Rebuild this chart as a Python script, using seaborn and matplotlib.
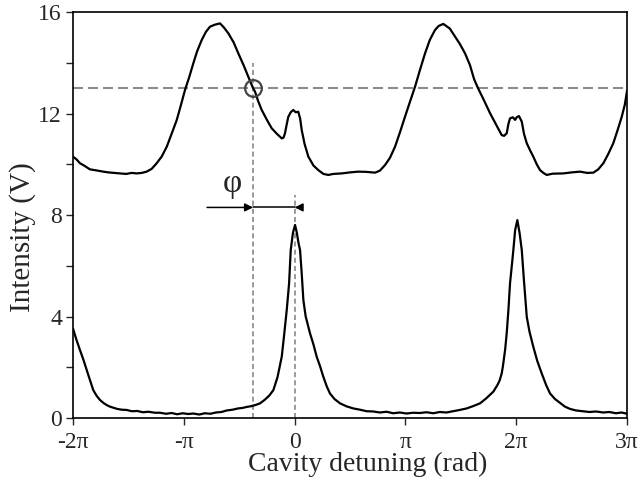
"""
Cavity scan: transmitted intensity vs cavity detuning
"""
import numpy as np
import pandas as pd
import seaborn as sns
import matplotlib.pyplot as plt
from matplotlib.ticker import MultipleLocator

# Set Style
sns.set_style("ticks")
plt.rcParams['font.family'] = ['Liberation Serif', 'DejaVu Serif']

# Data (x in units of pi, y in volts)
x_low = [-2.0, -1.97, -1.937, -1.906, -1.876, -1.847, -1.817, -1.787, -1.756, -1.72,
         -1.69, -1.666, -1.63, -1.60, -1.56, -1.515, -1.47, -1.42, -1.37, -1.32,
         -1.26, -1.215, -1.16, -1.11, -1.06, -1.01, -0.96, -0.914, -0.86, -0.81,
         -0.76, -0.71, -0.66, -0.613, -0.56, -0.51, -0.47, -0.432, -0.39, -0.35,
         -0.312, -0.27, -0.23, -0.192, -0.155, -0.116, -0.093, -0.071, -0.05, -0.035,
         -0.015, 0.004, 0.02, 0.035, 0.049, 0.064, 0.079, 0.10, 0.139, 0.17,
         0.199, 0.229, 0.259, 0.29, 0.319, 0.36, 0.41, 0.47, 0.53, 0.59,
         0.65, 0.71, 0.77, 0.83, 0.89, 0.95, 1.01, 1.07, 1.13, 1.19,
         1.25, 1.31, 1.37, 1.43, 1.49, 1.553, 1.61, 1.673, 1.73, 1.793,
         1.83, 1.85, 1.869, 1.88, 1.90, 1.914, 1.93, 1.944, 1.96, 1.974, 1.99, 2.010,
         2.03, 2.050, 2.07, 2.095, 2.12, 2.154, 2.19, 2.230, 2.27, 2.305,
         2.35, 2.395, 2.44, 2.486, 2.54, 2.60, 2.66, 2.72, 2.785, 2.84,
         2.90, 2.95, 3.0]
y_low = [3.53, 3.1, 2.68, 2.3, 1.89, 1.5, 1.10, 0.88, 0.71, 0.58,
         0.50, 0.45, 0.40, 0.36, 0.33, 0.32, 0.27, 0.28, 0.23, 0.25,
         0.21, 0.21, 0.17, 0.20, 0.15, 0.19, 0.16, 0.18, 0.14, 0.19,
         0.17, 0.22, 0.24, 0.30, 0.33, 0.38, 0.40, 0.44, 0.47, 0.52,
         0.58, 0.72, 0.88, 1.10, 1.6, 2.42, 3.34, 4.26, 5.3, 6.62,
         7.3, 7.61, 7.3, 6.9, 6.62, 5.7, 4.65, 4.0, 3.34, 2.9,
         2.42, 2.05, 1.63, 1.25, 0.97, 0.75, 0.58, 0.46, 0.38, 0.33,
         0.27, 0.26, 0.22, 0.25, 0.19, 0.22, 0.18, 0.21, 0.20, 0.23,
         0.19, 0.24, 0.22, 0.27, 0.32, 0.38, 0.47, 0.58, 0.78, 1.04,
         1.3, 1.48, 1.76, 2.05, 2.7, 3.34, 4.3, 5.31, 6.0, 6.62, 7.4, 7.80,
         7.3, 6.62, 5.4, 3.99, 3.4, 2.81, 2.25, 1.76, 1.3, 0.97,
         0.75, 0.6, 0.45, 0.36, 0.30, 0.27, 0.24, 0.26, 0.22, 0.24,
         0.19, 0.22, 0.17]

x_up = [-2.0, -1.97, -1.937, -1.90, -1.847, -1.79, -1.727, -1.68, -1.63, -1.576,
        -1.52, -1.47, -1.425, -1.38, -1.335, -1.29, -1.245, -1.20, -1.154, -1.11,
        -1.064, -1.025, -0.989, -0.95, -0.914, -0.88, -0.838, -0.80, -0.764, -0.72,
        -0.673, -0.64, -0.598, -0.55, -0.508, -0.46, -0.418, -0.375, -0.357, -0.33,
        -0.297, -0.25, -0.207, -0.16, -0.116, -0.10, -0.087, -0.07, -0.057, -0.035,
        -0.012, 0.01, 0.033, 0.05, 0.064, 0.09, 0.124, 0.17, 0.214, 0.26,
        0.304, 0.35, 0.425, 0.50, 0.575, 0.65, 0.726, 0.77, 0.816, 0.86,
        0.906, 0.95, 0.996, 1.04, 1.087, 1.13, 1.177, 1.22, 1.267, 1.30,
        1.342, 1.40, 1.448, 1.49, 1.538, 1.583, 1.62, 1.655, 1.70, 1.764,
        1.82, 1.869, 1.89, 1.914, 1.93, 1.944, 1.97, 1.99, 2.004, 2.025,
        2.050, 2.07, 2.095, 2.125, 2.154, 2.185, 2.215, 2.245, 2.275, 2.33,
        2.425, 2.50, 2.576, 2.64, 2.696, 2.74, 2.786, 2.83, 2.876, 2.915,
        2.952, 2.98, 3.0]
y_up = [10.30, 10.2, 10.04, 9.95, 9.80, 9.76, 9.71, 9.68, 9.66, 9.64,
        9.62, 9.66, 9.64, 9.66, 9.71, 9.82, 10.04, 10.30, 10.69, 11.2,
        11.74, 12.35, 12.93, 13.45, 13.98, 14.45, 14.90, 15.22, 15.42, 15.50,
        15.55, 15.40, 15.16, 14.80, 14.37, 13.90, 13.45, 13.0, 12.86, 12.50,
        12.14, 11.75, 11.42, 11.20, 11.02, 11.05, 11.22, 11.6, 11.87, 12.05,
        12.14, 12.05, 12.07, 11.8, 11.35, 10.8, 10.30, 9.95, 9.77, 9.62,
        9.58, 9.62, 9.64, 9.68, 9.71, 9.70, 9.67, 9.75, 9.97, 10.25,
        10.69, 11.25, 11.87, 12.45, 13.06, 13.70, 14.37, 14.90, 15.29, 15.45,
        15.53, 15.35, 15.03, 14.75, 14.37, 13.9, 13.35, 13.0, 12.6, 12.01,
        11.55, 11.15, 11.12, 11.22, 11.6, 11.81, 11.85, 11.75, 11.85, 11.9,
        11.68, 11.2, 10.83, 10.55, 10.30, 10.0, 9.77, 9.66, 9.58, 9.63,
        9.64, 9.68, 9.71, 9.66, 9.67, 9.80, 10.04, 10.40, 10.83, 11.35,
        11.87, 12.35, 12.9]

tick_pos = [-2, -1, 0, 1, 2, 3]
tick_labels = ['-2π', '-π', '0', 'π', '2π', '3π']

level = 13.0
phi_x = -0.375
arrow_y = 8.3

df_low = pd.DataFrame({'x': x_low, 'y': y_low})
df_up = pd.DataFrame({'x': x_up, 'y': y_up})

fig = plt.figure(figsize=(6.42, 4.8), dpi=100)
ax = fig.add_axes([0.1137, 0.129, 0.863, 0.846])

# guide lines
ax.axhline(level, color='#8c8c8c', lw=1.5, dashes=(4.8, 2.4), zorder=1)
ax.plot([phi_x, phi_x], [0, 14.0], color='#9a9a9a', lw=1.4, dashes=(2.6, 1.6), zorder=1)
ax.plot([0, 0], [0, 8.8], color='#9a9a9a', lw=1.4, dashes=(2.6, 1.6), zorder=1)

# curves
sns.lineplot(data=df_up, x='x', y='y', color='black', lw=1.6, ax=ax, zorder=3)
sns.lineplot(data=df_low, x='x', y='y', color='black', lw=1.6, ax=ax, zorder=3)

# marker at crossing
ax.plot([phi_x], [level], marker='o', ms=12, mfc='none', mec='#444444', mew=1.6, zorder=4)

# phase arrows
ax.annotate('', xy=(phi_x, arrow_y), xytext=(-0.79, arrow_y),
            arrowprops=dict(arrowstyle='-|>', color='black', lw=1.1,
                            mutation_scale=12, shrinkA=0, shrinkB=0))
ax.plot([phi_x, 0], [arrow_y, arrow_y], color='black', lw=1.1)
ax.annotate('', xy=(0, arrow_y), xytext=(0.07, arrow_y),
            arrowprops=dict(arrowstyle='-|>', color='black', lw=1.1,
                            mutation_scale=12, shrinkA=0, shrinkB=0))
ax.text(-0.565, 9.25, 'φ', fontsize=24, ha='center', va='center')

ax.set_xlim(-2, 3)
ax.set_ylim(0, 16)
ax.set_xticks(tick_pos)
ax.set_xticklabels(tick_labels)
ax.set_yticks([0, 4, 8, 12, 16])
ax.yaxis.set_minor_locator(MultipleLocator(2))
ax.tick_params(axis='both', which='both', direction='out', length=5, width=1,
               labelsize=17, pad=3)
ax.tick_params(axis='x', pad=5)
for s in ax.spines.values():
    s.set_visible(True)
    s.set_linewidth(1.2)
    s.set_color('black')

ax.set_xlabel('Cavity detuning (rad)', fontsize=20)
ax.set_ylabel('Intensity (V)', fontsize=21)
ax.xaxis.set_label_coords(0.531, -0.083)
ax.yaxis.set_label_coords(-0.066, 0.446)

plt.savefig('out.png', dpi=100)
